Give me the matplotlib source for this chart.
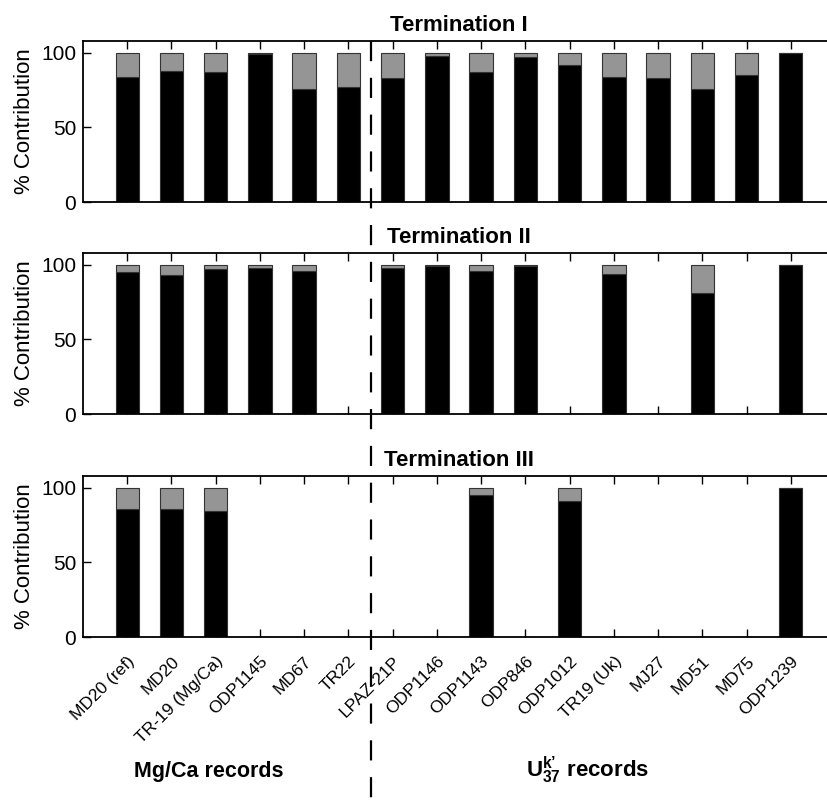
import matplotlib
matplotlib.use("Agg")
import matplotlib.pyplot as plt
from matplotlib.lines import Line2D
from matplotlib.transforms import blended_transform_factory
import numpy as np

plt.rcParams['font.family'] = ['Liberation Sans', 'DejaVu Sans']
plt.rcParams['mathtext.fontset'] = 'custom'
plt.rcParams['mathtext.rm'] = 'Liberation Sans'
plt.rcParams['mathtext.bf'] = 'Liberation Sans:bold'
plt.rcParams['mathtext.it'] = 'Liberation Sans:italic'
plt.rcParams['lines.scale_dashes'] = False

records = ["MD20 (ref)", "MD20", "TR-19 (Mg/Ca)", "ODP1145", "MD67", "TR22",
           "LPAZ-21P", "ODP1146", "ODP1143", "ODP846", "ODP1012", "TR19 (Uk)",
           "MJ27", "MD51", "MD75", "ODP1239"]

titles = ["Termination I", "Termination II", "Termination III"]

# black (main) contribution, % ; gray = remainder
term1_black = [84, 88, 87, 99.5, 76, 77, 83, 98, 87, 97, 92, 84, 83, 76, 85, 100]
term1_gray  = [16, 12, 13, 0.5, 24, 23, 17, 2, 13, 3, 8, 16, 17, 24, 15, 0]

term2_black = [95, 93, 97, 98, 96, 0, 98, 99, 96, 99, 0, 94, 0, 81, 0, 100]
term2_gray  = [5, 7, 3, 2, 4, 0, 2, 1, 4, 1, 0, 6, 0, 19, 0, 0]

term3_black = [86, 86, 84.5, 0, 0, 0, 0, 0, 95, 0, 91.5, 0, 0, 0, 0, 100]
term3_gray  = [14, 14, 15.5, 0, 0, 0, 0, 0, 5, 0, 8.5, 0, 0, 0, 0, 0]

blacks = [term1_black, term2_black, term3_black]
grays = [term1_gray, term2_gray, term3_gray]

W, H = 828, 805
fig = plt.figure(figsize=(W / 100, H / 100), dpi=100)

left = 83 / W
width = (835 - 83) / W
bottoms_px = [202, 414, 637]
height = 161 / H

x = np.arange(1, len(records) + 1)
axes = []
for i in range(3):
    ax = fig.add_axes([left, 1 - bottoms_px[i] / H, width, height])
    axes.append(ax)
    b = np.array(blacks[i], dtype=float)
    g = np.array(grays[i], dtype=float)
    ax.bar(x, b, width=0.53, color='black', edgecolor='#333333', linewidth=0.8, zorder=2)
    ax.bar(x, g, width=0.53, bottom=b, color='#959595', edgecolor='#333333', linewidth=0.8, zorder=2)
    ax.set_xlim(0, 17)
    ax.set_ylim(0, 108)
    ax.set_yticks([0, 50, 100])
    ax.set_xticks(x)
    ax.tick_params(axis='both', direction='in', top=True, right=True, length=6,
                   width=1.0, labelsize=15, pad=6)
    ax.tick_params(axis='y', pad=5)
    for s in ax.spines.values():
        s.set_linewidth(1.3)
    ax.set_ylabel('% Contribution', fontsize=16, labelpad=4)
    ax.set_title(titles[i], fontsize=16, fontweight='bold', pad=7)
    if i < 2:
        ax.set_xticklabels([])
    else:
        ax.set_xticklabels(records, rotation=45, ha='right', va='top',
                           rotation_mode='anchor', fontsize=12.5)
        ax.tick_params(axis='x', pad=12)

for ax in axes:
    ax.yaxis.set_label_coords(-0.064, 0.5)

# dashed separator across the figure
trans = blended_transform_factory(axes[0].transData, fig.transFigure)
sep = Line2D([6.5, 6.5], [1 - 41 / H, 0], transform=trans, color='black',
             linewidth=1.6, dashes=(14.5, 12), clip_on=False)
fig.lines.append(sep)

fig.text(209 / W, 1 - 777 / H, 'Mg/Ca records', fontsize=15.5, fontweight='bold',
         ha='center', va='baseline')
uk_label = r"$\mathbf{U}_{\mathbf{37}}^{\mathbf{k" + "\u2019" + r"}}$ records"
fig.text(588 / W, 1 - 777 / H, uk_label,
         fontsize=16, fontweight='bold', ha='center', va='baseline')

fig.savefig('out.png', dpi=100)
